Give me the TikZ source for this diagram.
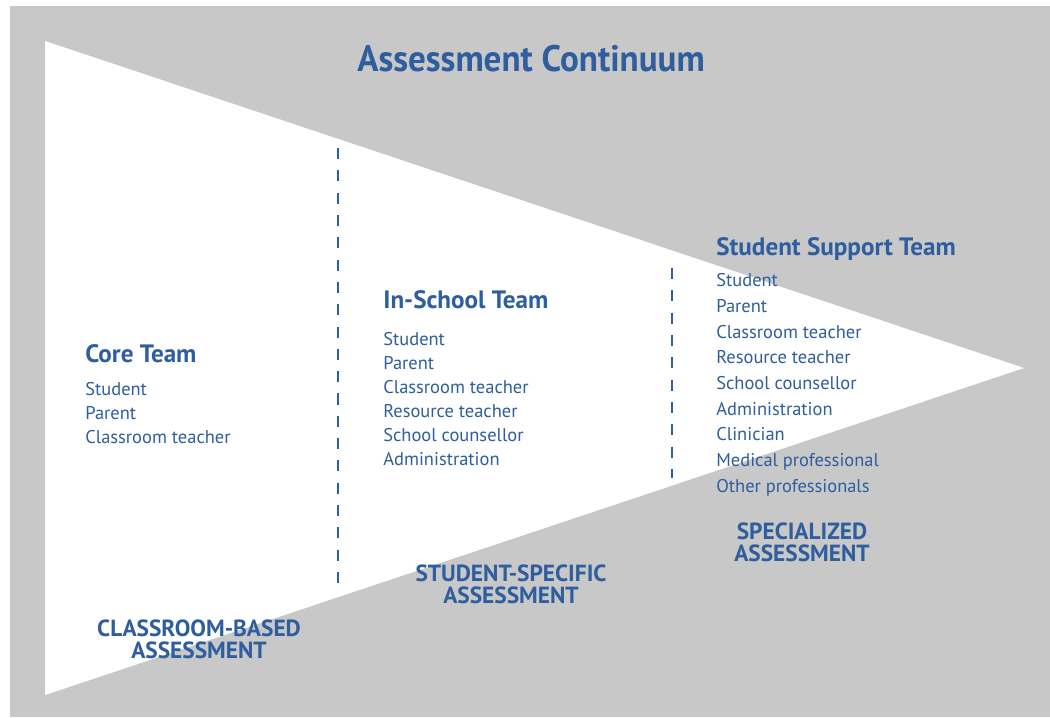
\documentclass[tikz,border=0pt]{standalone}
\usepackage{fontspec}
\setmainfont{PT Sans}
\newfontfamily\titlefont{PT Sans}[FakeStretch=0.95]
\usepackage{xcolor}
\definecolor{assessblue}{RGB}{46,94,158}
\definecolor{panelgray}{RGB}{200,200,200}
\usetikzlibrary{positioning}
\tikzset{
	heading/.style={
		anchor=west,
		inner sep=0pt,
		text=assessblue,
		font=\bfseries\fontsize{14.3}{17}\selectfont,
	},
	members/.style={
		inner sep=0pt,
		align=left,
		text=assessblue,
		font=\fontsize{10.5}{13.7}\selectfont,
	},
	level/.style={
		inner sep=0pt,
		align=center,
		text=assessblue,
		font=\bfseries\fontsize{13.3}{12.4}\selectfont,
	},
	divider/.style={
		draw=assessblue,
		line width=1.1pt,
		dash pattern=on 6.3pt off 6.4pt,
	},
}

\begin{document}
\begin{tikzpicture}[x=0.02cm,y=-0.02cm,node distance=6pt and 0pt]

\useasboundingbox (0,0) rectangle (1050,717);
\fill[panelgray] (10,6) rectangle (1050,717);
\fill[white] (45,41) -- (45,695) -- (1024,368) -- cycle;

\node[text=assessblue,font=\titlefont\bfseries\fontsize{21}{24}\selectfont] (title) at (531,59) {Assessment Continuum};

% teams
\node[heading] (core) at (85,354) {Core Team};
\node[members] (coremembers) [below right=10.5pt and 0pt of core.south west]
  {Student\\Parent\\Classroom teacher};

\node[heading] (inschool) at (383,300) {In-School Team};
\node[members] (inschoolmembers) [below right=12.8pt and 0pt of inschool.south west]
  {Student\\Parent\\Classroom teacher\\Resource teacher\\School counsellor\\Administration};

\node[heading] (support) at (716,249) {Student Support Team};
\node[members,font=\fontsize{10.5}{14.6}\selectfont] (supportmembers) [below right=7.1pt and 0pt of support.south west]
  {Student\\Parent\\Classroom teacher\\Resource teacher\\School counsellor\\Administration\\Clinician\\Medical professional\\Other professionals};

% levels
\node[level] (classroom) at (199,639) {CLASSROOM-BASED\\ASSESSMENT};
\node[level] (specific) at (511,584) {STUDENT-SPECIFIC\\ASSESSMENT};
\node[level] (specialized) at (802,542) {SPECIALIZED\\ASSESSMENT};

% dividers
\coordinate (firsttop) at (338,148);
\coordinate (firstbottom) at (338,585);
\coordinate (secondtop) at (672,268);
\coordinate (secondbottom) at (672,478);
\draw[divider] (firsttop) -- (firstbottom);
\draw[divider] (secondtop) -- (secondbottom);

\end{tikzpicture}
\end{document}
